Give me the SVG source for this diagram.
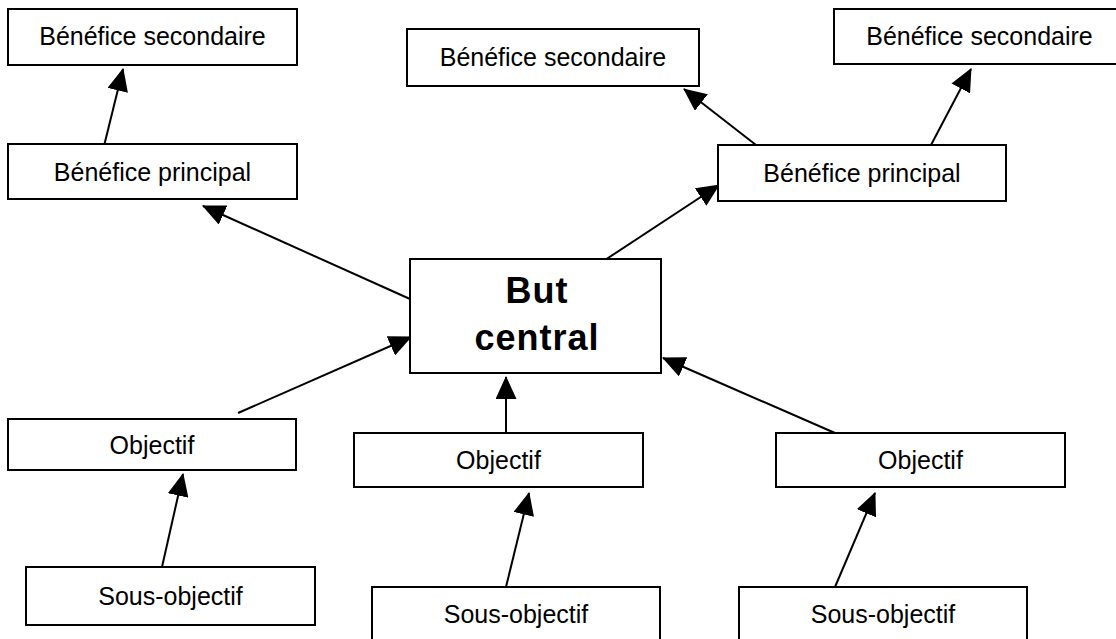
<svg xmlns="http://www.w3.org/2000/svg" width="1116" height="639" viewBox="0 0 1116 639">
  <style>
    .box { fill: #ffffff; stroke: #000000; stroke-width: 2; }
    .lbl { font-family: "Liberation Sans", Arial, sans-serif; font-size: 25px; fill: #000000; text-anchor: middle; }
    .main { font-family: "Liberation Sans", Arial, sans-serif; font-size: 36px; font-weight: bold; letter-spacing: 1px; fill: #000000; text-anchor: middle; }
    .conn line { stroke: #000000; stroke-width: 2; marker-end: url(#arrow); }
  </style>
  <defs>
    <marker id="arrow" markerUnits="userSpaceOnUse" viewBox="0 0 23 21" markerWidth="23" markerHeight="21" refX="22" refY="10.5" orient="auto">
      <path d="M0,0 L23,10.5 L0,21 Z" fill="#000000"/>
    </marker>
  </defs>
  <rect width="1116" height="639" fill="#ffffff"/>

  <g id="connectors" class="conn">
    <line x1="104" y1="146" x2="123" y2="69"/>
    <line x1="410" y1="299" x2="203" y2="206"/>
    <line x1="756" y1="145" x2="684" y2="89"/>
    <line x1="931" y1="145" x2="971" y2="69"/>
    <line x1="602" y1="262" x2="719" y2="185"/>
    <line x1="238" y1="413" x2="411" y2="337"/>
    <line x1="162" y1="567" x2="183" y2="474"/>
    <line x1="506" y1="433" x2="506" y2="377"/>
    <line x1="506" y1="587" x2="529" y2="493"/>
    <line x1="835" y1="433" x2="663" y2="358"/>
    <line x1="835" y1="587" x2="875" y2="493"/>
  </g>

  <g id="benefice-secondaire-1">
    <rect class="box" x="8" y="9" width="289" height="56"/>
    <text class="lbl" x="152.5" y="45">Bénéfice secondaire</text>
  </g>
  <g id="benefice-principal-1">
    <rect class="box" x="8" y="144" width="289" height="55"/>
    <text class="lbl" x="152.5" y="181">Bénéfice principal</text>
  </g>
  <g id="benefice-secondaire-2">
    <rect class="box" x="407" y="29" width="292" height="57"/>
    <text class="lbl" x="553" y="66">Bénéfice secondaire</text>
  </g>
  <g id="benefice-secondaire-3">
    <rect class="box" x="834" y="9" width="290" height="55"/>
    <text class="lbl" x="979.5" y="45">Bénéfice secondaire</text>
  </g>
  <g id="benefice-principal-2">
    <rect class="box" x="718" y="145" width="288" height="56"/>
    <text class="lbl" x="862" y="182">Bénéfice principal</text>
  </g>
  <g id="but-central">
    <rect class="box" x="410" y="259" width="251" height="114"/>
    <text class="main" x="537" y="303">But</text>
    <text class="main" x="537" y="350">central</text>
  </g>
  <g id="objectif-1">
    <rect class="box" x="8" y="419" width="288" height="51"/>
    <text class="lbl" x="152" y="454">Objectif</text>
  </g>
  <g id="objectif-2">
    <rect class="box" x="354" y="433" width="289" height="54"/>
    <text class="lbl" x="498.5" y="469">Objectif</text>
  </g>
  <g id="objectif-3">
    <rect class="box" x="776" y="433" width="289" height="54"/>
    <text class="lbl" x="920.5" y="469">Objectif</text>
  </g>
  <g id="sous-objectif-1">
    <rect class="box" x="26" y="567" width="289" height="58"/>
    <text class="lbl" x="170.5" y="605">Sous-objectif</text>
  </g>
  <g id="sous-objectif-2">
    <rect class="box" x="372" y="587" width="288" height="70"/>
    <text class="lbl" x="516" y="623">Sous-objectif</text>
  </g>
  <g id="sous-objectif-3">
    <rect class="box" x="739" y="587" width="288" height="70"/>
    <text class="lbl" x="883" y="623">Sous-objectif</text>
  </g>
</svg>
